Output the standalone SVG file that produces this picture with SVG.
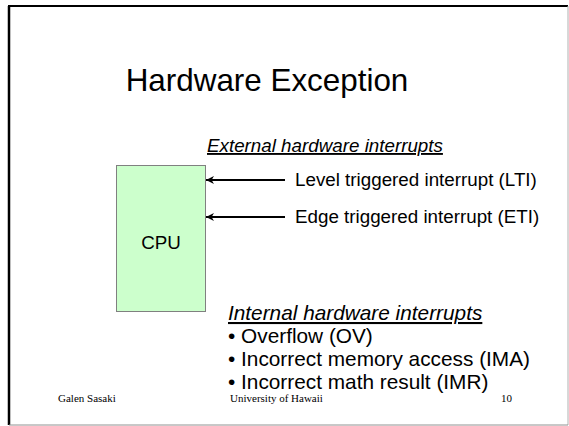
<svg xmlns="http://www.w3.org/2000/svg" width="569" height="426" viewBox="0 0 569 426">
  <style>
    .sans { font-family: "Liberation Sans", Arial, sans-serif; fill: #000; }
    .serif { font-family: "Liberation Serif", "Times New Roman", serif; fill: #000; font-size: 11px; }
    .ext { font-size: 18.8px; }
    .int { font-size: 20.8px; }
    .conn { stroke: #000; stroke-width: 2; fill: none; }
  </style>
  <defs>
    <marker id="arrow" viewBox="0 0 10 10" refX="10" refY="5" markerWidth="4.5" markerHeight="4" orient="auto" markerUnits="strokeWidth">
      <path d="M0,0 L10,5 L0,10 L3,5 Z" fill="#000"/>
    </marker>
  </defs>
  <rect x="0" y="0" width="569" height="426" fill="#fff"/>
  <g id="frame">
    <line x1="8" y1="6" x2="568" y2="6" stroke="#000" stroke-width="2"/>
    <line x1="9" y1="6" x2="9" y2="425" stroke="#000" stroke-width="2.5"/>
    <line x1="568" y1="6" x2="568" y2="425" stroke="#b0b0b0" stroke-width="1"/>
    <line x1="9" y1="425" x2="568" y2="425" stroke="#909090" stroke-width="1"/>
  </g>
  <g id="title">
    <text class="sans" x="267" y="91" font-size="31.4" text-anchor="middle">Hardware Exception</text>
  </g>
  <g id="cpu">
    <rect x="116.5" y="165.5" width="89" height="146" fill="#ccffcc" stroke="#808080" stroke-width="1"/>
    <text class="sans ext" x="161" y="249" text-anchor="middle">CPU</text>
  </g>
  <g id="external">
    <text class="sans ext" x="207" y="152" font-style="italic" text-decoration="underline">External hardware interrupts</text>
  </g>
  <g id="lti">
    <text class="sans ext" x="295" y="186">Level triggered interrupt (LTI)</text>
  </g>
  <g id="eti">
    <text class="sans ext" x="295" y="223">Edge triggered interrupt (ETI)</text>
  </g>
  <g id="connectors">
    <line class="conn" x1="285" y1="180" x2="206" y2="180" marker-end="url(#arrow)"/>
    <line class="conn" x1="285" y1="217" x2="206" y2="217" marker-end="url(#arrow)"/>
  </g>
  <g id="internal">
    <text class="sans int" x="228" y="320" font-style="italic" text-decoration="underline">Internal hardware interrupts</text>
    <text class="sans int" x="228" y="343">• Overflow (OV)</text>
    <text class="sans int" x="228" y="366">• Incorrect memory access (IMA)</text>
    <text class="sans int" x="228" y="389">• Incorrect math result (IMR)</text>
  </g>
  <g id="footer">
    <text class="serif" x="58" y="402">Galen Sasaki</text>
    <text class="serif" x="230" y="402">University of Hawaii</text>
    <text class="serif" x="512" y="402" text-anchor="end">10</text>
  </g>
</svg>
